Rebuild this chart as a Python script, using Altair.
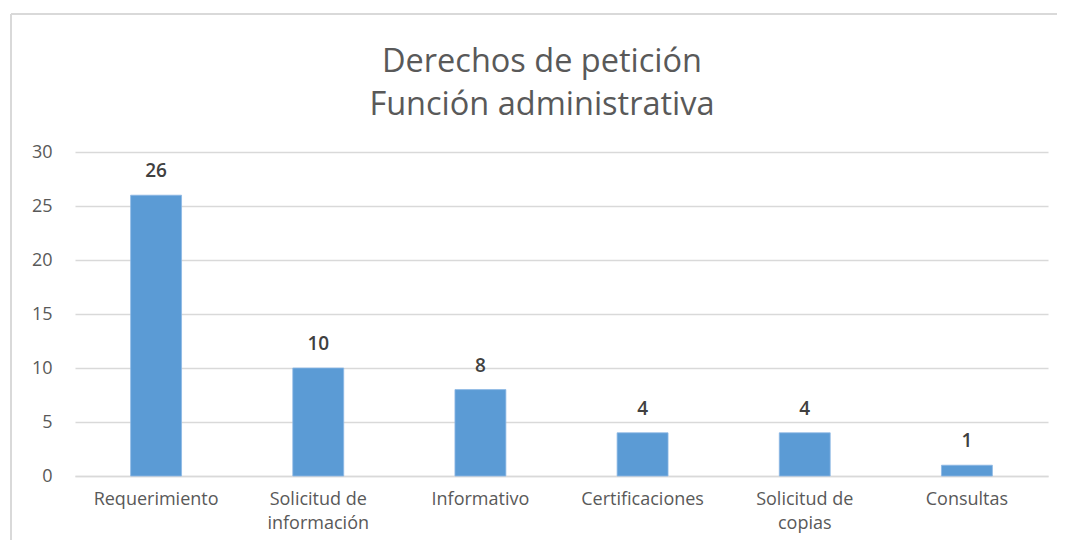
import altair as alt
import pandas as pd

categories = ["Requerimiento", "Solicitud de información", "Informativo",
              "Certificaciones", "Solicitud de copias", "Consultas"]
label_lines = [["Requerimiento"], ["Solicitud de", "información"], ["Informativo"],
               ["Certificaciones"], ["Solicitud de", "copias"], ["Consultas"]]
values = [26, 10, 8, 4, 4, 1]
y_ticks = [0, 5, 10, 15, 20, 25, 30]
title_lines = ["Derechos de petición", "Función administrativa"]

df = pd.DataFrame({"cat": categories, "val": values})

label_expr = "{" + ", ".join(
    f"'{c}': [{', '.join(repr(s) for s in l)}]" for c, l in zip(categories, label_lines)
) + "}[datum.value]"

FONT = "Open Sans"

x = alt.X("cat:N", sort=categories, title=None,
          scale=alt.Scale(paddingInner=0.686, paddingOuter=0.343),
          axis=alt.Axis(labelAngle=0, labelExpr=label_expr, labelFontSize=18,
                        labelColor="#595959", labelFont=FONT, labelPadding=14,
                        labelLineHeight=24, ticks=False, domainColor="#D9D9D9",
                        domainWidth=1.5, labelBaseline="top"))
y = alt.Y("val:Q", title=None,
          scale=alt.Scale(domain=[0, 30]),
          axis=alt.Axis(values=y_ticks, labelFontSize=18, labelColor="#595959",
                        labelFont=FONT, labelPadding=23, ticks=False, domain=False,
                        gridColor="#D9D9D9", gridWidth=1.5))

bars = alt.Chart(df).mark_bar(color="#5B9BD5", stroke="#8DB8E4", strokeWidth=0.8).encode(x=x, y=y)
texts = alt.Chart(df).mark_text(baseline="bottom", dy=-14, fontSize=19, fontWeight=600,
                                font=FONT, color="#404040").encode(
    x=alt.X("cat:N", sort=categories), y="val:Q", text="val:Q")

one = pd.DataFrame({"k": [0]})
left_border = alt.Chart(one).mark_rule(color="#D9D9D9", strokeWidth=2, clip=False).encode(
    x=alt.value(-64), y=alt.value(-138), y2=alt.value(390))
top_border = alt.Chart(one).mark_rule(color="#D9D9D9", strokeWidth=2, clip=False).encode(
    x=alt.value(-64), x2=alt.value(990), y=alt.value(-138))

title = alt.Chart(pd.DataFrame({"t": [title_lines]})).mark_text(
    fontSize=32.5, font=FONT, color="#595959", lineHeight=43, baseline="alphabetic",
    align="center", clip=False).encode(
    x=alt.value(467), y=alt.value(-80), text="t")

chart = alt.layer(left_border, top_border, title, bars, texts).properties(
    width=973, height=324,
    background="white",
    padding={"left": 67, "top": 144, "right": 9, "bottom": 64},
    autosize=alt.AutoSizeParams(type="none"),
).configure_view(strokeWidth=0, stroke="transparent")

chart.save("out.html", embed_options={"renderer": "svg", "actions": False})
